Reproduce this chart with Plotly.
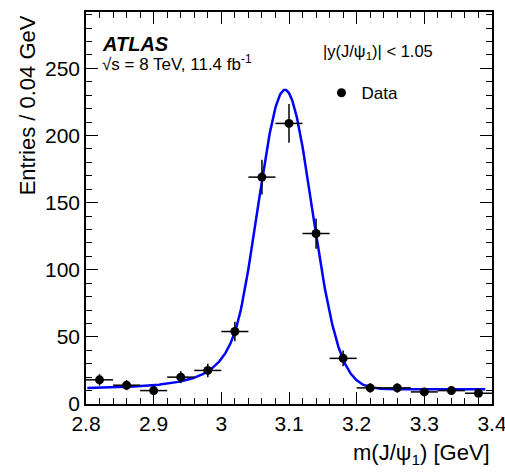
import numpy as np
import plotly.graph_objects as go

# Binned J/psi candidate mass spectrum (bin width 0.04 GeV)
mass_centers = [2.82, 2.86, 2.90, 2.94, 2.98, 3.02, 3.06, 3.10, 3.14, 3.18,
                3.22, 3.26, 3.30, 3.34, 3.38]
entries = [18, 14, 10, 20, 25, 54, 169, 209, 127, 34, 12, 12, 9, 10, 8]
bin_half_width = 0.02

# Crystal Ball signal + flat background fit parameters
fit_mu = 3.094
fit_sigma = 0.040
fit_alpha = 1.6
fit_n = 3.0
fit_amp = 223.0
fit_bg = 11.0


def crystal_ball(x, mu, sigma, alpha, n):
    t = (x - mu) / sigma
    a = (n / alpha) ** n * np.exp(-alpha ** 2 / 2)
    b = n / alpha - alpha
    core = np.exp(-t ** 2 / 2)
    tail = a * np.power(np.clip(b - t, 1e-9, None), -n)
    return np.where(t > -alpha, core, tail)


x_fit = np.linspace(2.802, 3.39, 600)
y_fit = fit_bg + fit_amp * crystal_ball(x_fit, fit_mu, fit_sigma, fit_alpha, fit_n)

FONT = "Liberation Sans, Arial, Helvetica, sans-serif"

fig = go.Figure()

fig.add_trace(go.Scatter(
    x=x_fit, y=y_fit, mode="lines",
    line=dict(color="#0000ff", width=2.5),
    showlegend=False, hoverinfo="skip",
))

fig.add_trace(go.Scatter(
    x=mass_centers, y=entries, mode="markers", name="Data",
    marker=dict(color="black", size=9, symbol="circle"),
    error_x=dict(type="constant", value=bin_half_width, color="black",
                 thickness=1.5, width=0),
    error_y=dict(type="data", array=np.sqrt(entries), color="black",
                 thickness=1.5, width=0),
))

axis_common = dict(
    showline=True, linecolor="black", linewidth=1.5, mirror="allticks",
    ticks="inside", ticklen=12, tickwidth=1.2, tickcolor="black",
    showgrid=False, zeroline=False, ticklabeloverflow="allow",
    automargin=False,
    tickfont=dict(family=FONT, size=21, color="black"),
)

fig.update_xaxes(
    range=[2.8, 3.40001],
    tickvals=[2.8, 2.9, 3.0, 3.1, 3.2, 3.3, 3.4],
    ticktext=["2.8", "2.9", "3", "3.1", "3.2", "3.3", "3.4"],
    minor=dict(ticks="inside", ticklen=6, dtick=0.02, tick0=2.8,
               tickcolor="black", tickwidth=1),
    **axis_common,
)
fig.update_yaxes(
    range=[0, 292], dtick=50, tick0=0,
    minor=dict(ticks="inside", ticklen=6, dtick=10, tick0=0,
               tickcolor="black", tickwidth=1),
    **axis_common,
)

annotations = [
    dict(text="<b><i>ATLAS</i></b>", x=0.0345, y=0.918, xanchor="left",
         yanchor="middle", font=dict(family=FONT, size=20, color="black")),
    dict(text="√s = 8 TeV, 11.4 fb<sup>-1</sup>", x=0.0345, y=0.870,
         xanchor="left", yanchor="middle",
         font=dict(family=FONT, size=17, color="black")),
    dict(text="|y(J/ψ<sub>1</sub>)| < 1.05", x=0.579, y=0.898,
         xanchor="left", yanchor="middle",
         font=dict(family=FONT, size=16.5, color="black")),
    dict(text="Entries / 0.04 GeV", textangle=-90, x=-0.145, y=0.997,
         xanchor="center", yanchor="top",
         font=dict(family=FONT, size=22, color="black")),
    dict(text="m(J/ψ<sub>1</sub>) [GeV]", x=1.0, y=-0.1276,
         xanchor="right", yanchor="middle",
         font=dict(family=FONT, size=22, color="black")),
]
for a in annotations:
    a.update(xref="paper", yref="paper", showarrow=False)

fig.update_layout(
    width=505, height=472,
    margin=dict(l=86, r=13, t=12, b=68, autoexpand=False),
    paper_bgcolor="white", plot_bgcolor="white",
    annotations=annotations,
    legend=dict(x=0.58, y=0.793, xanchor="left", yanchor="middle",
                itemwidth=30,
                bgcolor="rgba(0,0,0,0)", borderwidth=0,
                font=dict(family=FONT, size=17, color="black")),
)

fig.write_html("out.html")
